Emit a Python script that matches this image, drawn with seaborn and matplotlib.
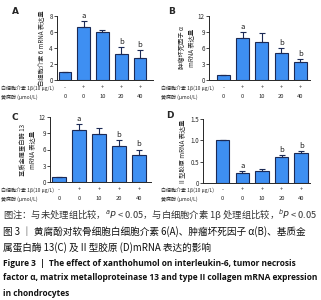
import numpy as np
import pandas as pd
import seaborn as sns
import matplotlib.pyplot as plt

# group labels under each panel
il1b_row = ["-", "+", "+", "+", "+"]
xan_row = ["0", "0", "10", "20", "40"]

# relative mRNA expression (mean, SD)
il6_mean = [1.0, 6.6, 5.95, 3.3, 2.75]
il6_sd = [0.0, 0.8, 0.3, 0.85, 1.0]
tnf_mean = [1.0, 7.9, 7.1, 5.0, 3.3]
tnf_sd = [0.0, 1.1, 1.7, 1.0, 0.6]
mmp13_mean = [1.0, 9.6, 8.9, 6.6, 5.0]
mmp13_sd = [0.0, 1.1, 1.1, 1.1, 1.0]
col2_mean = [1.0, 0.23, 0.28, 0.62, 0.70]
col2_sd = [0.0, 0.05, 0.05, 0.03, 0.04]

il6_sig = ["", "a", "", "b", "b"]
tnf_sig = ["", "a", "", "b", "b"]
mmp13_sig = ["", "a", "", "b", "b"]
col2_sig = ["", "a", "", "b", "b"]

sns.set_style("ticks")
plt.rcParams["font.family"] = ["Noto Sans CJK SC", "DejaVu Sans"]

fig = plt.figure(figsize=(3.21, 3.0), dpi=100)
W, H = 321, 300


def px_axes(x0, y0, x1, y1):
    return fig.add_axes([x0 / W, 1 - y1 / H, (x1 - x0) / W, (y1 - y0) / H])


panels = [
    ("A", px_axes(57, 16, 153, 80), il6_mean, il6_sd, il6_sig, [0, 2, 4, 6, 8],
     "白细胞介素 6 mRNA 表达量", (12, 11), 88, 97, 1, (-0.43, 4.7)),
    ("B", px_axes(209, 16, 310, 80), tnf_mean, tnf_sd, tnf_sig, [0, 3, 6, 9, 12],
     "肿瘤坏死因子 α\nmRNA 表达量", (168, 11), 88, 97, 161, (-0.75, 4.5)),
    ("C", px_axes(50, 117, 151, 182), mmp13_mean, mmp13_sd, mmp13_sig, [0, 3, 6, 9, 12],
     "基质金属蛋白酶 13\nmRNA 表达量", (12, 117), 190, 199, 1, (-0.45, 4.6)),
    ("D", px_axes(203, 119, 310, 183), col2_mean, col2_sd, col2_sig, [0, 0.5, 1.0, 1.5],
     "II 型胶原 mRNA 表达量", (166, 116), 190, 199, 161, (-1.0, 4.45)),
]

for letter, ax, mean, sd, sig, yt, ylab, lpos, r1, r2, rx, xl in panels:
    df = pd.DataFrame({"g": range(5), "v": mean})
    sns.barplot(data=df, x="g", y="v", color="#3e8ff2", saturation=1,
                edgecolor="#1c2a55", linewidth=0.8, width=0.68, ax=ax)
    ax.errorbar(range(5), mean, yerr=[np.zeros(5), sd], fmt="none",
                ecolor="#1c2a55", elinewidth=0.8, capsize=2.2, capthick=0.8)
    top = yt[-1]
    for i, s in enumerate(sig):
        if s:
            ax.text(i, mean[i] + sd[i] + top * 0.02, s, ha="center", va="bottom",
                    fontsize=5.5, color="#222222")
    ax.set_ylim(0, top)
    ax.set_yticks(yt)
    if top == 1.5:
        ax.set_yticklabels(["0", "0.5", "1.0", "1.5"])
    else:
        ax.set_yticklabels([str(t) for t in yt])
    ax.set_xlim(*xl)
    ax.set_xticks([])
    ax.set_xlabel("")
    ax.set_ylabel(ylab, fontsize=4.5, labelpad=2, linespacing=1.2)
    ax.tick_params(axis="y", labelsize=4.5, length=2, width=0.6, pad=1)
    for sp in ["left", "bottom"]:
        ax.spines[sp].set_linewidth(0.7)
    sns.despine(ax=ax)
    fig.text(lpos[0] / W, 1 - lpos[1] / H, letter, fontsize=6.5, fontweight="bold",
             ha="left", va="center", family="DejaVu Sans")
    # row labels under bars
    fig.text(rx / W, 1 - r1 / H, "白细胞介素 1β(10 μg/L)", fontsize=3.6,
             ha="left", va="center")
    fig.text(rx / W, 1 - r2 / H, "黄腐酚 (μmol/L)", fontsize=3.6,
             ha="left", va="center")
    for i in range(5):
        xd = ax.transData.transform((i, 0))[0] / fig.bbox.width
        fig.text(xd, 1 - r1 / H, il1b_row[i], fontsize=4.2, ha="center", va="center")
        fig.text(xd, 1 - r2 / H, xan_row[i], fontsize=4.2, ha="center", va="center")

fig.text(0.01, 1 - 214 / H,
         "图注：与未处理组比较，$^{a}$$\\it{P}$ < 0.05，与白细胞介素 1β 处理组比较，$^{b}$$\\it{P}$ < 0.05",
         fontsize=6.7, color="#333333", va="center", ha="left")
fig.text(0.01, 1 - 232 / H,
         "图 3 ｜ 黄腐酚对软骨细胞白细胞介素 6(A)、肿瘤坏死因子 α(B)、基质金",
         fontsize=6.95, color="#111111", va="center", ha="left")
fig.text(0.01, 1 - 248 / H, "属蛋白酶 13(C) 及 II 型胶原 (D)mRNA 表达的影响",
         fontsize=6.95, color="#111111", va="center", ha="left")
en_lines = ["Figure 3  |  The effect of xanthohumol on interleukin-6, tumor necrosis",
            "factor α, matrix metalloproteinase 13 and type II collagen mRNA expression",
            "in chondrocytes"]
for k, line in enumerate(en_lines):
    fig.text(0.01, 1 - (263 + 15 * k) / H, line, fontsize=6.0, fontweight="bold",
             color="#111111", va="center", ha="left", family=["Open Sans", "DejaVu Sans"])

fig.savefig("out.png", dpi=100)
